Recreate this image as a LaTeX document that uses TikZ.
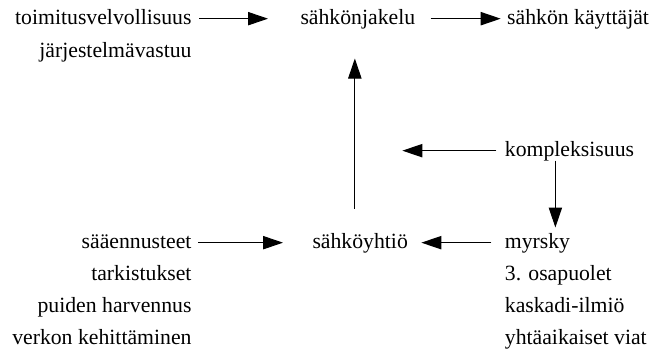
\documentclass[tikz,border=0pt]{standalone}
\usepackage{fontspec}
\setmainfont{Liberation Serif}
\usetikzlibrary{positioning,arrows.meta}

\begin{document}
\begin{tikzpicture}[x=1pt, y=1pt, line width=0.75pt,
        txt/.style={inner sep=0pt, text height=11pt, text depth=3pt, font=\fontsize{16.3}{19}\selectfont},
        >={Triangle[length=15pt, width=10pt]}]
        \useasboundingbox (0,0) rectangle (489.75,-265.5);

        \node[txt, anchor=base east] (toim) at (144,-18) {toimitusvelvollisuus};
        \node[txt, below left=10pt and 0pt of toim.south east] (jarj) {järjestelmävastuu};
        \node[txt, right=81pt of toim] (snk) {sähkönjakelu};
        \node[txt, right=68.25pt of snk] (kay) {sähkön käyttäjät};

        \node[txt, anchor=base east] (saa) at (144,-186) {sääennusteet};
        \node[txt, below left=9.25pt and 0pt of saa.south east] (tark) {tarkistukset};
        \node[txt, below left=9.25pt and 0pt of tark.south east] (puid) {puiden harvennus};
        \node[txt, below left=9.25pt and 0pt of puid.south east] (verk) {verkon kehittäminen};
        \node[txt, right=90pt of saa] (syht) {sähköyhtiö};

        \node[txt, right=72pt of syht] (myr) {myrsky};
        \node[txt, below right=9.25pt and 0pt of myr.south west] (osap) {3. osapuolet};
        \node[txt, below right=9.25pt and 0pt of osap.south west] (kask) {kaskadi-ilmiö};
        \node[txt, below right=9.25pt and 0pt of kask.south west] (yht) {yhtäaikaiset viat};
        \node[txt, above right=54.25pt and 0pt of myr.north west] (kompl) {kompleksisuus};
        \coordinate[left=76.5pt of kompl.west] (kvas);

        \draw[->, shorten <=5.25pt, shorten >=24pt] (toim) -- (snk);
        \draw[->, shorten <=11.25pt, shorten >=4.5pt] (snk) -- (kay);
        \draw[->, shorten <=18.25pt, shorten >=22.5pt] ([xshift=-2.25pt]snk.south |- syht.north) -- ([xshift=-2.25pt]snk.south);
        \draw[->, shorten <=6pt] (kompl) -- (kvas);
        \draw[->, shorten >=4pt] ([xshift=38.25pt]kompl.south west) -- ([xshift=38.25pt]myr.north west);
        \draw[->, shorten <=4.5pt, shorten >=21.75pt] (saa) -- (syht);
        \draw[->, shorten <=9.75pt, shorten >=9.75pt] (myr) -- (syht);
    \end{tikzpicture}
\end{document}
